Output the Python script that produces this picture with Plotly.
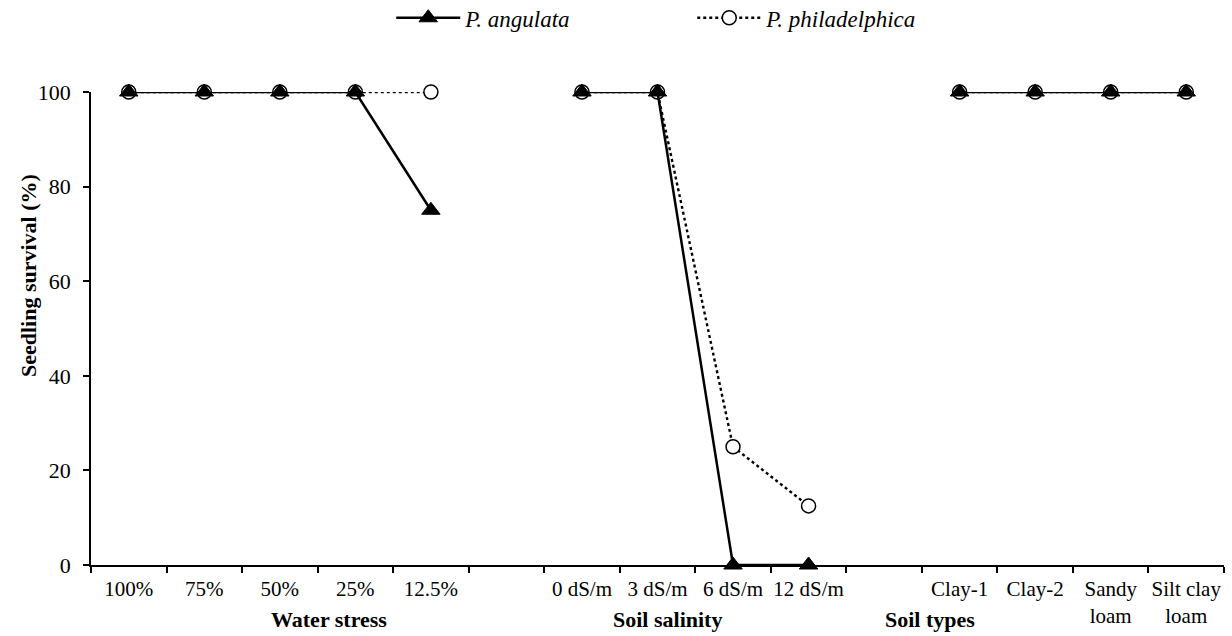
import plotly.graph_objects as go

categories = ["100%", "75%", "50%", "25%", "12.5%", " ",
              "0 dS/m", "3 dS/m", "6 dS/m", "12 dS/m", "  ",
              "Clay-1", "Clay-2", "Sandy<br>loam", "Silt clay<br>loam"]
angulata = [100, 100, 100, 100, 75, None,
            100, 100, 0, 0, None,
            100, 100, 100, 100]
philadelphica = [100, 100, 100, 100, 100, None,
                 100, 100, 25, 12.5, None,
                 100, 100, 100, 100]
group_labels = ["Water stress", "Soil salinity", "Soil types"]
group_pos = [0.210, 0.509, 0.7405]
y_ticks = [0, 20, 40, 60, 80, 100]

FONT = "Liberation Serif, Times New Roman, serif"

fig = go.Figure()
fig.add_trace(go.Scatter(
    x=categories, y=philadelphica, name="<i>P. philadelphica</i>",
    mode="lines+markers",
    line=dict(color="black", width=2.4, dash="dot"),
    marker=dict(symbol="circle", size=14, color="white",
                line=dict(color="black", width=1.5)),
    cliponaxis=False,
))
fig.add_trace(go.Scatter(
    x=categories, y=angulata, name="<i>P. angulata</i>",
    mode="lines+markers",
    line=dict(color="black", width=2.5),
    marker=dict(symbol="triangle-up", size=16, color="black",
                line=dict(color="black", width=1)),
    cliponaxis=False,
))

for lab, pos in zip(group_labels, group_pos):
    fig.add_annotation(text="<b>%s</b>" % lab, xref="paper", yref="paper",
                       x=pos, y=-0.116, xanchor="center", yanchor="middle",
                       showarrow=False, font=dict(size=22, family=FONT, color="black"))

fig.add_annotation(text="<b>Seedling survival (%)</b>", xref="paper", yref="paper",
                   x=-0.0547, y=0.611, textangle=-90, xanchor="center", yanchor="middle",
                   showarrow=False, font=dict(size=22, family=FONT, color="black"))

fig.update_layout(
    width=1232, height=636,
    margin=dict(l=91, r=8, t=92, b=71),
    paper_bgcolor="white", plot_bgcolor="white",
    font=dict(family=FONT, size=21, color="black"),
    showlegend=True,
    legend=dict(orientation="h", x=0.265, xanchor="left",
                yref="container", y=0.972, yanchor="middle",
                traceorder="reversed", font=dict(size=23, family=FONT),
                itemwidth=64, entrywidth=222,
                bgcolor="rgba(0,0,0,0)"),
    xaxis=dict(type="category", categoryorder="array", categoryarray=categories,
               range=[-0.5, len(categories) - 0.5], automargin=False,
               showline=True, linecolor="black", linewidth=1.5,
               ticks="outside", ticklen=6, tickcolor="black", tickwidth=1.5,
               tickson="boundaries", showgrid=False, zeroline=False, tickangle=0,
               ticklabelstandoff=4,
               tickfont=dict(size=21, family=FONT)),
    yaxis=dict(range=[0, 100], tickvals=y_ticks, automargin=False,
               showline=True, linecolor="black", linewidth=1.5,
               ticks="outside", ticklen=6, tickcolor="black", tickwidth=1.5,
               ticklabelstandoff=8,
               showgrid=False, zeroline=False,
               tickfont=dict(size=22, family=FONT)),
)

fig.write_html("out.html")
